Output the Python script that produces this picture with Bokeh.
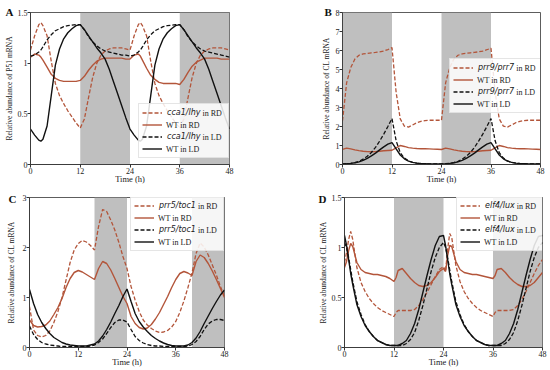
from bokeh.plotting import figure
from bokeh.models import BoxAnnotation, Legend, LegendItem, FixedTicker, Range1d, Title
from bokeh.layouts import row, column
from bokeh.embed import file_html
from bokeh.resources import INLINE

# ---------------- data ----------------
hours = [0, 12, 24, 36, 48]

# Panel A
tA = [0, 1, 2, 2.5, 3, 4, 5, 6, 7, 8, 9, 10, 11, 12, 13, 14, 15, 16, 17, 18, 19, 20, 21, 22, 23, 24,
      25, 26, 26.5, 27, 28, 29, 30, 31, 32, 33, 34, 35, 36, 37, 38, 39, 40, 41, 42, 43, 44, 45, 46, 47, 48]
A_mut_rd = [1.13, 1.27, 1.38, 1.40, 1.37, 1.27, 1.02, 0.80, 0.68, 0.60, 0.53, 0.47, 0.41, 0.36, 0.45, 0.66,
            0.86, 1.00, 1.08, 1.12, 1.14, 1.15, 1.15, 1.15, 1.14, 1.13,
            1.27, 1.38, 1.40, 1.37, 1.27, 1.02, 0.80, 0.68, 0.60, 0.53, 0.47, 0.41, 0.36, 0.45, 0.66,
            0.86, 1.00, 1.08, 1.12, 1.14, 1.15, 1.15, 1.15, 1.14, 1.13]
A_wt_rd = [1.06, 1.09, 1.08, 1.06, 1.03, 0.96, 0.89, 0.85, 0.83, 0.82, 0.82, 0.82, 0.82, 0.83, 0.87, 0.93,
           0.98, 1.02, 1.04, 1.05, 1.05, 1.05, 1.05, 1.05, 1.04, 1.04,
           1.08, 1.09, 1.07, 1.03, 0.95, 0.88, 0.84, 0.81, 0.80, 0.80, 0.80, 0.80, 0.79, 0.84, 0.91,
           0.97, 1.01, 1.03, 1.05, 1.05, 1.05, 1.05, 1.04, 1.04, 1.04]
A_mut_ld = [1.07, 1.08, 1.11, 1.13, 1.16, 1.23, 1.28, 1.32, 1.34, 1.36, 1.37, 1.375, 1.38, 1.38, 1.33, 1.26,
            1.21, 1.17, 1.14, 1.12, 1.11, 1.10, 1.09, 1.08, 1.08, 1.07,
            1.08, 1.11, 1.13, 1.16, 1.23, 1.28, 1.32, 1.34, 1.36, 1.37, 1.375, 1.38, 1.38, 1.33, 1.26,
            1.21, 1.17, 1.14, 1.12, 1.11, 1.10, 1.09, 1.08, 1.07, 1.06]
A_wt_ld = [0.35, 0.29, 0.24, 0.23, 0.25, 0.38, 0.68, 0.98, 1.14, 1.24, 1.30, 1.34, 1.37, 1.38, 1.33, 1.27,
           1.21, 1.15, 1.10, 1.04, 0.94, 0.82, 0.70, 0.58, 0.46, 0.35,
           0.29, 0.24, 0.23, 0.25, 0.38, 0.68, 0.98, 1.14, 1.24, 1.30, 1.34, 1.37, 1.38, 1.33, 1.27,
           1.21, 1.15, 1.10, 1.04, 0.94, 0.82, 0.70, 0.58, 0.46, 0.35]

# Panel B
tB = list(range(0, 49))
B_mut_rd = [2.30, 4.30, 5.10, 5.55, 5.75, 5.82, 5.85, 5.88, 5.90, 5.93, 5.97, 6.05, 6.15, 3.80, 2.40, 2.02,
            1.97, 2.08, 2.20, 2.27, 2.31, 2.33, 2.33, 2.33, 2.33,
            4.30, 5.10, 5.55, 5.75, 5.82, 5.85, 5.88, 5.90, 5.93, 5.97, 6.04, 6.12, 3.80, 2.40, 2.02,
            1.97, 2.08, 2.20, 2.27, 2.31, 2.33, 2.33, 2.33, 2.33]
B_wt_rd = [0.80, 0.86, 0.82, 0.77, 0.73, 0.70, 0.68, 0.67, 0.68, 0.70, 0.72, 0.74, 0.75, 0.88, 1.00, 0.95,
           0.89, 0.86, 0.84, 0.83, 0.83, 0.82, 0.81, 0.80, 0.79,
           0.86, 0.82, 0.77, 0.73, 0.70, 0.68, 0.67, 0.68, 0.70, 0.72, 0.74, 0.75, 0.88, 1.00, 0.95,
           0.89, 0.86, 0.84, 0.83, 0.83, 0.82, 0.81, 0.80, 0.79]
B_mut_ld = [0.03, 0.04, 0.06, 0.10, 0.17, 0.28, 0.43, 0.63, 0.90, 1.23, 1.60, 2.00, 2.42, 1.25, 0.62, 0.34,
            0.19, 0.11, 0.07, 0.05, 0.04, 0.03, 0.03, 0.03, 0.03,
            0.04, 0.06, 0.10, 0.17, 0.28, 0.43, 0.63, 0.90, 1.23, 1.60, 2.00, 2.42, 1.25, 0.62, 0.34,
            0.19, 0.11, 0.07, 0.05, 0.04, 0.03, 0.03, 0.03, 0.03]
B_wt_ld = [0.03, 0.04, 0.06, 0.09, 0.14, 0.22, 0.32, 0.45, 0.60, 0.77, 0.93, 1.07, 1.15, 0.82, 0.50, 0.30,
           0.18, 0.11, 0.07, 0.05, 0.04, 0.03, 0.03, 0.03, 0.03,
           0.04, 0.06, 0.09, 0.14, 0.22, 0.32, 0.45, 0.60, 0.77, 0.93, 1.07, 1.15, 0.82, 0.50, 0.30,
           0.18, 0.11, 0.07, 0.05, 0.04, 0.03, 0.03, 0.03, 0.03]

# Panel C
tC = list(range(0, 49))
C_mut_rd = [0.82, 0.35, 0.24, 0.21, 0.24, 0.33, 0.50, 0.72, 1.00, 1.35, 1.70, 1.95, 2.08, 2.14, 2.11, 2.04,
            1.95, 2.42, 2.76, 2.72, 2.55, 2.35, 2.10, 1.82, 1.58,
            1.22, 0.95, 0.72, 0.55, 0.45, 0.38, 0.33, 0.30, 0.31, 0.34, 0.41, 0.52, 0.70, 0.93, 1.20,
            1.49, 1.88, 2.09, 2.01, 1.85, 1.65, 1.45, 1.22, 1.02]
C_wt_rd = [0.55, 0.44, 0.41, 0.42, 0.45, 0.53, 0.66, 0.80, 0.98, 1.20, 1.38, 1.50, 1.54, 1.51, 1.46, 1.41,
           1.36, 1.58, 1.72, 1.68, 1.55, 1.38, 1.20, 1.02, 0.88,
           0.62, 0.48, 0.40, 0.37, 0.39, 0.46, 0.57, 0.70, 0.86, 1.02, 1.20, 1.36, 1.48, 1.52, 1.49,
           1.44, 1.72, 1.85, 1.80, 1.68, 1.53, 1.36, 1.18, 1.00]
C_mut_ld = [0.43, 0.26, 0.16, 0.10, 0.07, 0.05, 0.04, 0.03, 0.02, 0.02, 0.02, 0.02, 0.02, 0.02, 0.02, 0.03,
            0.05, 0.10, 0.17, 0.28, 0.40, 0.50, 0.55, 0.55, 0.51,
            0.36, 0.22, 0.14, 0.09, 0.06, 0.04, 0.03, 0.03, 0.02, 0.02, 0.02, 0.02, 0.02, 0.02, 0.03,
            0.06, 0.12, 0.22, 0.36, 0.47, 0.53, 0.56, 0.56, 0.54]
C_wt_ld = [1.16, 0.88, 0.66, 0.50, 0.38, 0.28, 0.20, 0.15, 0.10, 0.07, 0.05, 0.04, 0.03, 0.03, 0.03, 0.05,
           0.07, 0.13, 0.23, 0.36, 0.51, 0.68, 0.84, 1.02, 1.17,
           0.92, 0.68, 0.52, 0.41, 0.32, 0.24, 0.18, 0.13, 0.09, 0.06, 0.04, 0.03, 0.03, 0.03, 0.05,
           0.10, 0.19, 0.32, 0.48, 0.63, 0.78, 0.92, 1.05, 1.15]

# Panel D
tD = [0, 0.5, 1, 1.5, 2, 3, 4, 5, 6, 7, 8, 9, 10, 11, 12, 12.5, 13, 14, 15, 16, 17, 18, 19, 20, 21, 22, 23, 24,
      24.5, 25, 25.5, 26, 27, 28, 29, 30, 31, 32, 33, 34, 35, 36, 36.5, 37, 38, 39, 40, 41, 42, 43, 44, 45,
      46, 47, 48]
D_mut_rd = [0.85, 0.95, 1.08, 1.16, 1.08, 0.80, 0.65, 0.56, 0.49, 0.44, 0.40, 0.37, 0.35, 0.33, 0.31, 0.35,
            0.37, 0.37, 0.37, 0.37, 0.38, 0.42, 0.48, 0.55, 0.63, 0.71, 0.78, 0.81,
            0.76, 0.98, 1.14, 1.10, 0.82, 0.66, 0.56, 0.49, 0.44, 0.40, 0.37, 0.35, 0.33, 0.31, 0.35,
            0.37, 0.37, 0.37, 0.37, 0.38, 0.42, 0.48, 0.56, 0.65, 0.74, 0.82, 0.88]
D_wt_rd = [0.80, 0.86, 0.97, 1.04, 1.01, 0.85, 0.78, 0.75, 0.74, 0.73, 0.73, 0.72, 0.71, 0.69, 0.66, 0.70,
           0.77, 0.79, 0.74, 0.69, 0.65, 0.62, 0.61, 0.62, 0.65, 0.70, 0.76, 0.79,
           0.76, 0.92, 1.02, 1.01, 0.86, 0.78, 0.75, 0.74, 0.73, 0.73, 0.72, 0.71, 0.70, 0.69, 0.72,
           0.78, 0.79, 0.75, 0.70, 0.66, 0.63, 0.61, 0.61, 0.62, 0.65, 0.70, 0.75]
D_mut_ld = [1.05, 1.00, 0.90, 0.78, 0.66, 0.46, 0.33, 0.23, 0.16, 0.11, 0.07, 0.05, 0.03, 0.02, 0.02, 0.02,
            0.02, 0.02, 0.04, 0.08, 0.15, 0.27, 0.42, 0.59, 0.76, 0.90, 1.00, 1.05,
            1.00, 0.90, 0.78, 0.66, 0.46, 0.33, 0.23, 0.16, 0.11, 0.07, 0.05, 0.03, 0.02, 0.02, 0.02,
            0.02, 0.02, 0.04, 0.08, 0.15, 0.27, 0.42, 0.59, 0.76, 0.90, 1.00, 1.05]
D_wt_ld = [1.12, 1.02, 0.88, 0.74, 0.63, 0.43, 0.31, 0.22, 0.16, 0.11, 0.07, 0.05, 0.03, 0.02, 0.02, 0.02,
           0.02, 0.04, 0.07, 0.14, 0.24, 0.38, 0.55, 0.72, 0.88, 1.02, 1.11, 1.12,
           1.02, 0.88, 0.74, 0.63, 0.43, 0.31, 0.22, 0.16, 0.11, 0.07, 0.05, 0.03, 0.02, 0.02, 0.02,
           0.02, 0.04, 0.07, 0.14, 0.24, 0.38, 0.55, 0.72, 0.88, 1.02, 1.11, 1.12]

dark_A = [(12, 24), (36, 48)]
dark_B = [(0, 12), (24, 36)]
dark_C = [(16, 24), (40, 48)]
dark_D = [(12, 24), (36, 48)]

genes = {"A": "cca1/lhy", "B": "prr9/prr7", "C": "prr5/toc1", "D": "elf4/lux"}

# ---------------- style ----------------
RED = "#b3553a"
BLACK = "#111111"
GRAY = "#bfbfbf"
SERIF = "Liberation Serif"
SANS = "DejaVu Sans"
FRAME = "#333333"
TXT = "#1a1a1a"
LFS = 8  # legend font size, px

# approximate advance widths (em) for DejaVu Sans Oblique / Liberation Serif
SANS_W = {"c": 0.550, "a": 0.613, "1": 0.636, "/": 0.337, "l": 0.278, "h": 0.634, "y": 0.592,
          "p": 0.635, "r": 0.411, "9": 0.636, "7": 0.636, "5": 0.636, "t": 0.392, "o": 0.612,
          "e": 0.615, "f": 0.352, "4": 0.636, "u": 0.634, "x": 0.592}
SERIF_W = {" ": 0.25, "i": 0.278, "n": 0.5, "R": 0.667, "D": 0.722, "L": 0.611}


def tw(s, table):
    return sum(table.get(ch, 0.55) for ch in s) * LFS


def set_standoff(title, val):
    try:
        title.standoff = val
    except Exception:
        title.standoff = 0


def style_legend(lg, lab_w, font, italic, visible_box):
    lg.label_text_font = font
    lg.label_text_font_style = "italic" if italic else "normal"
    lg.label_text_font_size = f"{LFS}px"
    lg.label_text_color = TXT
    lg.label_width = lab_w
    lg.label_height = 11
    lg.glyph_height = 11
    lg.glyph_width = 20
    lg.label_standoff = 5
    lg.spacing = 1
    lg.padding = 3
    lg.margin = 0
    if visible_box:
        lg.border_line_color = "#cccccc"
        lg.border_line_width = 0.8
        lg.background_fill_alpha = 0.85
    else:
        lg.border_line_alpha = 0
        lg.background_fill_alpha = 0


def make_panel(letter, t, mut_rd, wt_rd, mut_ld, wt_ld, ymax, yticks, ylabel, dark,
               width, height, bl, br, bt, bb, leg_pos, letter_dx, letter_so, ylab_so):
    p = figure(width=width, height=height, output_backend="svg", toolbar_location=None,
               x_range=Range1d(0, 48), y_range=Range1d(0, ymax),
               min_border_left=bl, min_border_right=br, min_border_top=bt, min_border_bottom=bb)
    fw = width - bl - br
    fh = height - bt - bb
    p.xgrid.visible = False
    p.ygrid.visible = False
    p.outline_line_color = FRAME
    p.outline_line_width = 0.8

    for (a, b) in dark:
        p.add_layout(BoxAnnotation(left=a, right=b, fill_color=GRAY, fill_alpha=1.0,
                                   line_alpha=0, level="underlay"))

    r1 = p.line(t, mut_rd, line_color=RED, line_width=1.3, line_dash="4 2")
    r2 = p.line(t, wt_rd, line_color=RED, line_width=1.4)
    r3 = p.line(t, mut_ld, line_color=BLACK, line_width=1.3, line_dash="4 2")
    r4 = p.line(t, wt_ld, line_color=BLACK, line_width=1.4)
    ghost = p.line(x=[], y=[], line_alpha=0)

    # legend: three stacked legends give the mixed italic-sans / serif labels
    g = genes[letter]
    gw = tw(g, SANS_W)
    sw = tw(" ", SERIF_W) + 1
    lab_w = int(round(gw + tw(" in RD", SERIF_W))) + 3
    leg_w = 2 * 3 + 20 + 5 + lab_w
    leg_h = 2 * 3 + 4 * 11 + 3 * 1
    mode, dx, dy = leg_pos
    lx = fw - leg_w - dx
    ly = (fh - leg_h - dy) if mode == "top" else dy

    lg1 = Legend(items=[LegendItem(label=g, renderers=[r1]),
                        LegendItem(label=" ", renderers=[r2]),
                        LegendItem(label=g, renderers=[r3]),
                        LegendItem(label=" ", renderers=[r4])], location=(lx, ly))
    style_legend(lg1, lab_w, SANS, True, True)
    p.add_layout(lg1)

    lg2 = Legend(items=[LegendItem(label=" ", renderers=[ghost]),
                        LegendItem(label="WT in RD", renderers=[ghost]),
                        LegendItem(label=" ", renderers=[ghost]),
                        LegendItem(label="WT in LD", renderers=[ghost])], location=(lx, ly))
    style_legend(lg2, lab_w, SERIF, False, False)
    p.add_layout(lg2)

    lg3 = Legend(items=[LegendItem(label="in RD", renderers=[ghost]),
                        LegendItem(label=" ", renderers=[ghost]),
                        LegendItem(label="in LD", renderers=[ghost]),
                        LegendItem(label=" ", renderers=[ghost])],
                 location=(lx + gw + sw, ly))
    style_legend(lg3, 24, SERIF, False, False)
    p.add_layout(lg3)

    for ax in (p.xaxis[0], p.yaxis[0]):
        ax.axis_line_color = FRAME
        ax.axis_line_width = 0.8
        ax.major_tick_line_color = FRAME
        ax.major_tick_out = 3
        ax.major_tick_in = 0
        ax.minor_tick_line_color = None
        ax.major_label_text_font = SERIF
        ax.major_label_text_font_size = "8px"
        ax.major_label_text_color = TXT
        ax.major_label_standoff = 0
    p.xaxis.ticker = FixedTicker(ticks=hours)
    p.yaxis.ticker = FixedTicker(ticks=yticks)

    # axis titles as side-panel titles
    xt = Title(text="Time (h)", align="center", vertical_align="top", text_font=SERIF,
               text_font_size="8.5px", text_font_style="normal", text_color=TXT)
    set_standoff(xt, -5)
    p.add_layout(xt, "below")
    yt = Title(text=ylabel, align="center", vertical_align="bottom", text_font=SERIF,
               text_font_size="7.5px", text_font_style="normal", text_color=TXT)
    set_standoff(yt, ylab_so)
    p.add_layout(yt, "left")
    # panel letter
    lt = Title(text=letter, align="left", vertical_align="bottom", offset=-bl + letter_dx,
               text_font=SERIF, text_font_size="11px", text_font_style="bold", text_color="#111111")
    set_standoff(lt, letter_so)
    p.add_layout(lt, "above")
    return p


pA = make_panel("A", tA, A_mut_rd, A_wt_rd, A_mut_ld, A_wt_ld, 1.5, [0, 0.5, 1.0, 1.5],
                "Relative abundance of P51 mRNA", dark_A,
                318, 186, 30, 89, 12, 22, ("bottom", 2, 6), 5, -11, 1)
pB = make_panel("B", tB, B_mut_rd, B_wt_rd, B_mut_ld, B_wt_ld, 8, list(range(0, 9)),
                "Relative abundance of CL mRNA", dark_B,
                232, 186, 22, 10, 11, 22, ("bottom", 1, 51), 4, -11, 3)
pC = make_panel("C", tC, C_mut_rd, C_wt_rd, C_mut_ld, C_wt_ld, 3, [0, 1, 2, 3],
                "Relative abundance of CL mRNA", dark_C,
                316, 183, 27, 92, 10, 22, ("top", 4, 2), 6, -14, 8)
pD = make_panel("D", tD, D_mut_rd, D_wt_rd, D_mut_ld, D_wt_ld, 1.5, [0, 0.5, 1.0, 1.5],
                "Relative abundance of CL mRNA", dark_D,
                234, 183, 28, 8, 11, 22, ("top", 1, 1), 2, -14, 1)

layout = column(row(pA, pB), row(pC, pD))
open("out.html", "w").write(file_html(layout, INLINE))
